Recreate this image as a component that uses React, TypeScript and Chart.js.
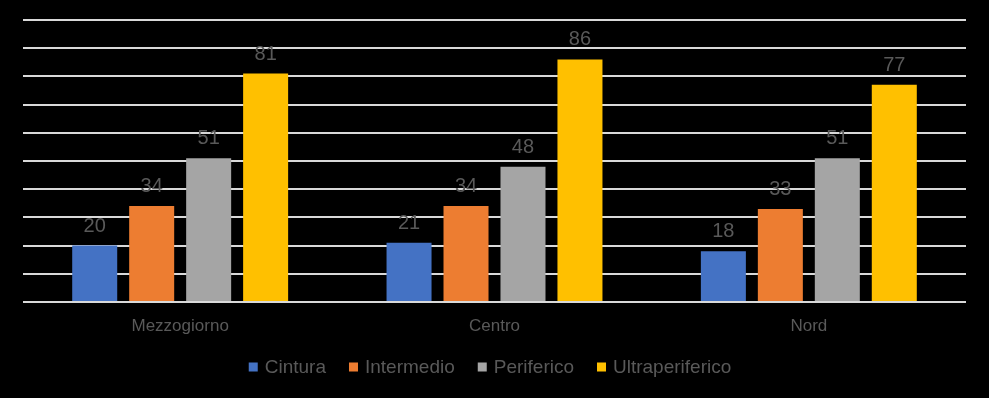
import React, { useEffect, useRef } from "react";
import { Chart, registerables } from "chart.js";

Chart.register(...registerables);

const categories = ["Mezzogiorno", "Centro", "Nord"];
const seriesNames = ["Cintura", "Intermedio", "Periferico", "Ultraperiferico"];
const cintura = [20, 21, 18];
const intermedio = [34, 34, 33];
const periferico = [51, 48, 51];
const ultraperiferico = [81, 86, 77];
const seriesColors = ["#4472C4", "#ED7D31", "#A5A5A5", "#FFC000"];

const FONT = "'Liberation Sans', Arial, sans-serif";
const TEXT_COLOR = "#595959";

const dataLabelPlugin = {
  id: "dataLabels",
  afterDatasetsDraw(chart: any) {
    const ctx = chart.ctx;
    ctx.save();
    ctx.font = `20px ${FONT}`;
    ctx.fillStyle = TEXT_COLOR;
    ctx.textAlign = "center";
    ctx.textBaseline = "alphabetic";
    chart.data.datasets.forEach((ds: any, i: number) => {
      const meta = chart.getDatasetMeta(i);
      meta.data.forEach((el: any, j: number) => {
        ctx.fillText(String(ds.data[j]), el.x, el.y - 14);
      });
    });
    ctx.restore();
  },
};

const legendPlugin = {
  id: "customLegend",
  afterDraw(chart: any) {
    const ctx = chart.ctx;
    ctx.save();
    ctx.font = `19px ${FONT}`;
    ctx.textBaseline = "middle";
    ctx.textAlign = "left";
    const box = 9;
    const boxGap = 7;
    const itemGap = 23;
    const widths = seriesNames.map((n) => box + boxGap + ctx.measureText(n).width);
    const total = widths.reduce((a, b) => a + b, 0) + itemGap * (seriesNames.length - 1);
    let x = 490 - total / 2;
    const cy = 367;
    seriesNames.forEach((n, i) => {
      ctx.fillStyle = seriesColors[i];
      ctx.fillRect(x, cy - box / 2, box, box);
      ctx.fillStyle = TEXT_COLOR;
      ctx.fillText(n, x + box + boxGap, cy + 1);
      x += widths[i] + itemGap;
    });
    ctx.restore();
  },
};

const bgPlugin = {
  id: "bg",
  beforeDraw(chart: any) {
    const ctx = chart.ctx;
    ctx.save();
    ctx.fillStyle = "#000000";
    ctx.fillRect(0, 0, chart.width, chart.height);
    ctx.restore();
  },
};

export default function App() {
  const ref = useRef<HTMLCanvasElement>(null);
  useEffect(() => {
    document.body.style.margin = "0";
    document.body.style.background = "#000";
    const values = [cintura, intermedio, periferico, ultraperiferico];
    const chart = new Chart(ref.current as HTMLCanvasElement, {
      type: "bar",
      data: {
        labels: categories,
        datasets: seriesNames.map((name, i) => ({
          label: name,
          data: values[i],
          backgroundColor: seriesColors[i],
          borderWidth: 0,
          categoryPercentage: 0.725,
          barPercentage: 0.79,
        })),
      },
      options: {
        animation: false,
        responsive: false,
        maintainAspectRatio: false,
        layout: { padding: { left: 23, right: 23, top: 20, bottom: 0 } },
        plugins: {
          legend: { display: false },
          tooltip: { enabled: false },
        },
        scales: {
          x: {
            grid: { display: false, drawTicks: false },
            border: { display: false },
            ticks: { color: TEXT_COLOR, font: { family: FONT, size: 17 }, padding: 14 },
            afterFit: (scale: any) => {
              scale.height = 96;
            },
          },
          y: {
            min: 0,
            max: 100,
            ticks: { display: false, stepSize: 10 },
            border: { display: false },
            grid: { color: "#D9D9D9", lineWidth: 2, drawTicks: false },
          },
        },
      },
      plugins: [bgPlugin, dataLabelPlugin, legendPlugin],
    });
    return () => chart.destroy();
  }, []);
  return (
    <div style={{ width: 989, height: 398, background: "#000" }}>
      <canvas ref={ref} width={989} height={398} style={{ display: "block" }} />
    </div>
  );
}
